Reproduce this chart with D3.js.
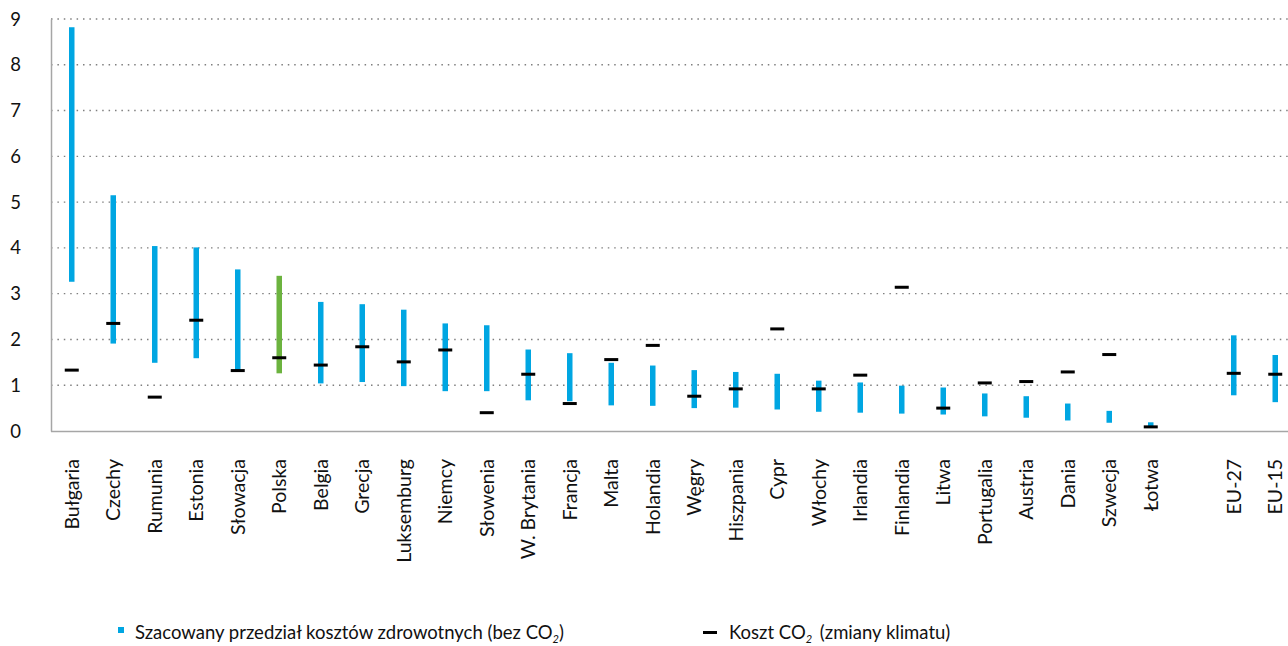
<!DOCTYPE html>
<html>
<head>
<meta charset="utf-8">
<script src="https://cdn.jsdelivr.net/npm/d3@7"></script>
<style>
  html, body { margin: 0; padding: 0; background: #fff; }
  svg { display: block; font-family: Lato, "Noto Sans", sans-serif; }
</style>
</head>
<body>
<svg id="chart" width="1288" height="646"></svg>
<script>
// ---- data ----
const categories = ["Bułgaria","Czechy","Rumunia","Estonia","Słowacja","Polska","Belgia","Grecja","Luksemburg","Niemcy","Słowenia","W. Brytania","Francja","Malta","Holandia","Węgry","Hiszpania","Cypr","Włochy","Irlandia","Finlandia","Litwa","Portugalia","Austria","Dania","Szwecja","Łotwa","","EU-27","EU-15"];
const healthLow  = [3.26,1.91,1.49,1.59,1.32,1.26,1.04,1.07,0.98,0.87,0.87,0.67,0.65,0.56,0.55,0.50,0.51,0.47,0.42,0.40,0.38,0.36,0.32,0.29,0.23,0.18,0.09,null,0.78,0.63];
const healthHigh = [8.82,5.15,4.04,4.01,3.53,3.39,2.82,2.77,2.65,2.35,2.31,1.78,1.70,1.49,1.43,1.33,1.29,1.25,1.10,1.06,0.99,0.95,0.82,0.76,0.60,0.44,0.19,null,2.09,1.66];
const co2Cost    = [1.33,2.35,0.74,2.42,1.32,1.60,1.44,1.84,1.51,1.77,0.40,1.24,0.60,1.56,1.87,0.76,0.92,2.23,0.92,1.22,3.14,0.50,1.05,1.08,1.29,1.67,0.09,null,1.26,1.24];
const highlight  = ["Polska"];
const yTicks     = [0,1,2,3,4,5,6,7,8,9];
const legendLabels = ["Szacowany przedział kosztów zdrowotnych (bez CO", "Koszt CO"];

// ---- layout ----
const svg = d3.select("#chart");
const plotLeft = 51, plotRight = 1296, plotTop = 19, plotBottom = 431;
const blue = "#00a6e2", green = "#6cb33f";

const x = d3.scaleBand().domain(categories.map((c, i) => i)).range([plotLeft, plotRight]).padding(0);
const y = d3.scaleLinear().domain([0, 9]).range([plotBottom, plotTop]);

// gridlines
svg.append("g").selectAll("line").data(yTicks.filter(t => t > 0)).join("line")
  .attr("x1", plotLeft).attr("x2", 1288)
  .attr("y1", d => y(d)).attr("y2", d => y(d))
  .attr("stroke", "#7f7f7f").attr("stroke-width", 1.4)
  .attr("stroke-dasharray", "1.5,4.9");

// y axis
const yAxis = svg.append("g").attr("transform", `translate(${plotLeft},0)`)
  .call(d3.axisLeft(y).tickValues(yTicks).tickSize(0).tickPadding(30).tickFormat(d3.format("d")));
yAxis.select(".domain").attr("stroke", "#a6a6a6").attr("stroke-width", 1.5);
yAxis.selectAll("text").attr("font-size", 18.5).attr("fill", "#111").attr("font-family", "Lato").attr("dy", "0.33em");

// x axis
const xAxis = svg.append("g").attr("transform", `translate(0,${plotBottom})`)
  .call(d3.axisBottom(x).tickSize(0).tickFormat(i => categories[i]));
xAxis.select(".domain").attr("stroke", "#a6a6a6").attr("stroke-width", 1.5)
  .attr("d", `M${plotLeft},0.5H1288`);
xAxis.selectAll("text")
  .attr("font-size", 19.5).attr("fill", "#111").attr("font-family", "Lato")
  .attr("text-anchor", "end")
  .attr("transform", "rotate(-90)")
  .attr("x", -28).attr("y", 0).attr("dy", "0.36em");

// range bars
const idx = categories.map((c, i) => i).filter(i => healthLow[i] != null);
const bw = 5.5;
svg.append("g").selectAll("rect").data(idx).join("rect")
  .attr("x", i => x(i) + x.bandwidth() / 2 - bw / 2)
  .attr("width", bw)
  .attr("y", i => y(healthHigh[i]))
  .attr("height", i => y(healthLow[i]) - y(healthHigh[i]))
  .attr("fill", i => highlight.includes(categories[i]) ? green : blue);

// CO2 markers
const mw = 14, mh = 3;
svg.append("g").selectAll("rect").data(idx).join("rect")
  .attr("x", i => x(i) + x.bandwidth() / 2 - mw / 2)
  .attr("width", mw)
  .attr("y", i => y(co2Cost[i]) - mh / 2)
  .attr("height", mh)
  .attr("fill", "#000");

// legend
const lg = svg.append("g").attr("font-family", "Lato").attr("font-size", 18.5).attr("fill", "#111");
lg.append("rect").attr("x", 118).attr("y", 627).attr("width", 6).attr("height", 6).attr("fill", blue);
const t1 = lg.append("text").attr("x", 135).attr("y", 639);
t1.append("tspan").text(legendLabels[0]);
t1.append("tspan").attr("font-size", 11).attr("dy", 4).attr("font-style", "italic").text("2");
t1.append("tspan").attr("dy", -4).text(")");
lg.append("rect").attr("x", 703).attr("y", 631).attr("width", 14).attr("height", 3).attr("fill", "#000");
const t2 = lg.append("text").attr("x", 729).attr("y", 639);
t2.append("tspan").text(legendLabels[1]);
t2.append("tspan").attr("font-size", 11).attr("dy", 4).attr("font-style", "italic").text("2");
t2.append("tspan").attr("dy", -4).attr("dx", 3).text(" (zmiany klimatu)");
</script>
</body>
</html>
